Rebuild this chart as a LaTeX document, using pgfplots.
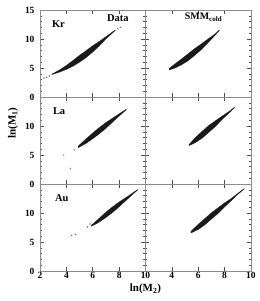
\documentclass[border=0pt]{standalone}
\usepackage{fontspec}
\setmainfont{Liberation Serif}
\usepackage{pgfplots}
\pgfplotsset{compat=1.18}
\usepgfplotslibrary{groupplots}
\newcommand{\tl}[1]{\textbf{#1}}
\begin{document}
\begin{tikzpicture}
\begin{groupplot}[group style={group name=G, group size=2 by 3, horizontal sep=0pt, vertical sep=0pt},
 width=105.5bp, height=87bp, scale only axis,
 xmin=2, xmax=10, ymin=0, ymax=15,
 xtick={2,4,6,8,10}, ytick={0,5,10,15},
 minor y tick num=4,
 xticklabels={}, yticklabels={},
 tick align=inside,
 major tick length=4bp, minor tick length=2bp,
 axis line style={black!45},
 every tick/.style={black!70, line width=0.5pt},
 ticklabel style={font=\bfseries\fontsize{9.5}{9.5}\selectfont},
 xticklabel style={yshift=2bp},
 yticklabel style={xshift=-2bp},
 clip=false,
 band/.style={fill=black!90, draw=black!90, line width=0.2pt},
 dots/.style={only marks, mark=*, mark size=0.45bp, black!60},
]
% ---- Kr data
\nextgroupplot[yticklabels={\tl{0},\tl{5},\tl{10},\tl{15}}]
\addplot[band] coordinates {(2.9,3.95)(3.5,4.7)(4,5.45)(4.5,6.3)(5,7.2)(5.5,8.0)(6,8.85)(6.5,9.6)(7,10.4)(7.7,11.55)
 (7.7,11.45)(7,10.0)(6.5,8.8)(6,7.75)(5.5,6.8)(5,6.0)(4.5,5.3)(4,4.75)(3.5,4.3)(2.9,3.85)(2.9,3.95)};
\addplot[dots] coordinates {(2.3,3.3)(2.5,3.4)(2.7,3.6)(7.9,11.8)(8.1,12.0)};
\node[font=\bfseries\fontsize{10.5}{10.5}\selectfont] at (axis cs:3.4,12.6) {Kr};
\node[font=\bfseries\fontsize{10.5}{10.5}\selectfont] at (axis cs:7.9,13.65) {Data};
% ---- Kr SMM
\nextgroupplot
\addplot[band] coordinates {(3.8,4.95)(4.2,5.65)(4.7,6.5)(5.2,7.4)(5.7,8.3)(6.2,9.1)(6.7,9.95)(7.2,10.75)(7.6,11.55)
 (7.6,11.45)(7.2,10.45)(6.7,9.25)(6.2,8.1)(5.7,7.1)(5.2,6.2)(4.7,5.5)(4.2,4.95)(3.8,4.65)(3.8,4.95)};
\node[font=\bfseries\fontsize{10}{10}\selectfont] at (axis cs:6.4,13.75) {SMM\textsubscript{cold}};
% ---- La data
\nextgroupplot[yticklabels={\tl{0},\tl{5},\tl{10},}]
\addplot[band] coordinates {(4.9,6.55)(5.5,7.8)(6,8.8)(6.5,9.75)(7,10.6)(7.5,11.35)(8,12.1)(8.55,12.9)
 (8.55,12.8)(8,11.7)(7.5,10.65)(7,9.6)(6.5,8.65)(6,7.8)(5.5,7.0)(4.9,6.25)(4.9,6.55)};
\addplot[dots] coordinates {(3.8,5.0)(4.3,2.7)(4.6,5.9)};
\node[font=\bfseries\fontsize{10.5}{10.5}\selectfont] at (axis cs:3.45,12.65) {La};
\node[rotate=90, font=\bfseries\fontsize{11}{11}\selectfont] at (rel axis cs:-0.256,0.70) {ln(M\textsubscript{1})};
% ---- La SMM
\nextgroupplot
\addplot[band] coordinates {(5.3,6.8)(5.8,8.05)(6.3,9.1)(6.8,10.1)(7.3,10.9)(7.8,11.7)(8.3,12.45)(8.75,13.25)
 (8.75,13.15)(8.3,12.15)(7.8,11.1)(7.3,9.9)(6.8,8.9)(6.3,7.9)(5.8,7.15)(5.3,6.6)(5.3,6.8)};
% ---- Au data
\nextgroupplot[yticklabels={\tl{0},\tl{5},\tl{10},}, xticklabels={\tl{2},\tl{4},\tl{6},\tl{8},\tl{10}}]
\addplot[band] coordinates {(5.9,7.9)(6.4,8.9)(6.9,9.95)(7.4,10.9)(7.9,11.75)(8.4,12.5)(8.9,13.25)(9.4,14.05)
 (9.4,13.95)(8.9,12.95)(8.4,11.9)(7.9,10.85)(7.4,9.9)(6.9,9.05)(6.4,8.3)(5.9,7.7)(5.9,7.9)};
\addplot[dots] coordinates {(4.4,6.1)(4.7,6.3)(5.6,7.6)(5.8,8.1)};
\node[font=\bfseries\fontsize{10.5}{10.5}\selectfont] at (axis cs:3.65,12.5) {Au};
% ---- Au SMM
\nextgroupplot[xticklabels={,\tl{4},\tl{6},\tl{8},\tl{10}}]
\addplot[band] coordinates {(5.45,6.85)(6,8.05)(6.5,9.05)(7,10.05)(7.5,10.9)(8,11.75)(8.5,12.5)(9,13.4)(9.5,14.23)
 (9.5,14.17)(9,13.2)(8.5,12.1)(8,11.05)(7.5,9.9)(7,8.95)(6.5,7.95)(6,7.15)(5.45,6.55)(5.45,6.85)};
\node[font=\bfseries\fontsize{11}{11}\selectfont] at (rel axis cs:0,-0.205) {ln(M\textsubscript{2})};
\end{groupplot}
\pgfresetboundingbox
\path ([shift={(-40bp,-30bp)}]G c1r3.south west) rectangle ([shift={(9bp,10bp)}]G c2r1.north east);
\end{tikzpicture}
\end{document}
